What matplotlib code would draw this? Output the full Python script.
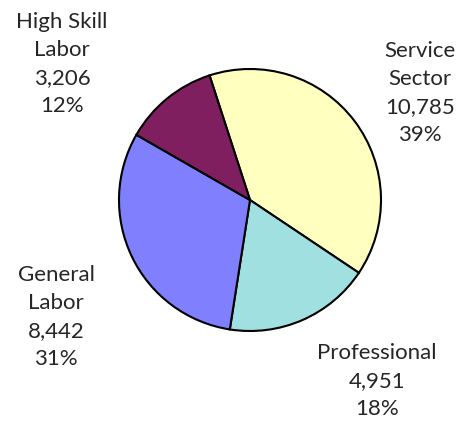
import matplotlib.pyplot as plt

# Workforce by sector
sectors = ['Service\nSector', 'Professional', 'General\nLabor', 'High Skill\nLabor']
counts = [10785, 4951, 8442, 3206]
colors = ['#FFFFC0', '#A0E0E0', '#8080FF', '#7F1F5F']

# label anchor points (x, y from top) in pixels
label_pos = [(420, 93), (377, 381), (56, 317), (62, 64)]

W, H = 471, 424
fig = plt.figure(figsize=(W / 100, H / 100), dpi=100)
ax = fig.add_axes([0, 0, 1, 1])
ax.set_xlim(0, W)
ax.set_ylim(0, H)
ax.set_aspect('equal')
ax.axis('off')

ax.pie(counts, colors=colors, startangle=108, counterclock=False,
       center=(250, H - 200), radius=131,
       wedgeprops=dict(edgecolor='black', linewidth=1.5))
ax.set_xlim(0, W)
ax.set_ylim(0, H)

total = sum(counts)
for name, n, (x, y) in zip(sectors, counts, label_pos):
    txt = f'{name}\n{n:,}\n{round(100 * n / total)}%'
    ax.text(x, H - y, txt, ha='center', va='center', fontsize=16,
            family='Lato', color='#262626', linespacing=1.5)

fig.savefig('out.png', dpi=100)
